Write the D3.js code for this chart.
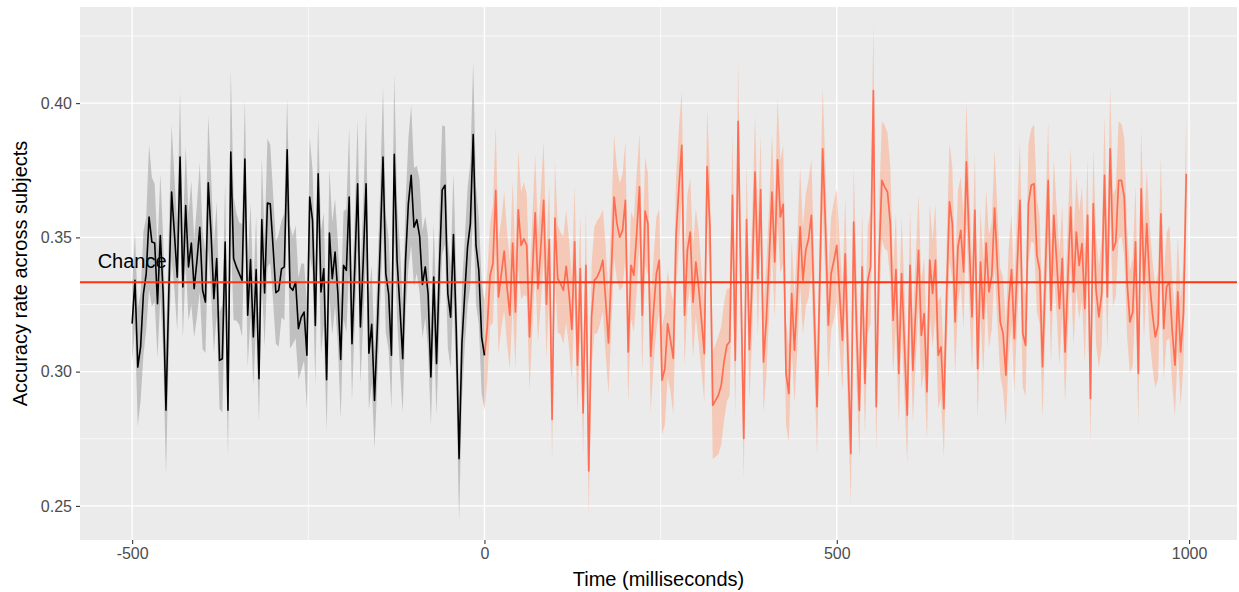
<!DOCTYPE html>
<html>
<head>
<meta charset="utf-8">
<script src="https://cdn.jsdelivr.net/npm/d3@7"></script>
<style>
  body { margin: 0; background: #fff; }
  text { font-family: "Liberation Sans", Arial, sans-serif; }
</style>
</head>
<body>
<svg id="chart"></svg>
<script>
// sampling grid (ms)
const step = 4;
const preStart = -500;
const postStart = 0;

// mean accuracy, pre-stimulus (black)
const preMean = [
  0.3179, 0.3340, 0.3017, 0.3092, 0.3290, 0.3365, 0.3576, 0.3483, 0.3479, 0.3253,
  0.3507, 0.3290, 0.2856, 0.3290, 0.3669, 0.3514, 0.3352, 0.3799, 0.3315, 0.3619,
  0.3390, 0.3479, 0.3309, 0.3414, 0.3538, 0.3303, 0.3259, 0.3703, 0.3514, 0.3272,
  0.3421, 0.3042, 0.3048, 0.3483, 0.2856, 0.3818, 0.3421, 0.3390, 0.3365, 0.3340,
  0.3792, 0.3210, 0.3417, 0.3129, 0.3380, 0.2974, 0.3566, 0.3293, 0.3628, 0.3625,
  0.3464, 0.3294, 0.3303, 0.3383, 0.3390, 0.3826, 0.3315, 0.3303, 0.3334, 0.3160,
  0.3203, 0.3222, 0.3061, 0.3650, 0.3563, 0.3172, 0.3737, 0.3297, 0.3383, 0.2970,
  0.3516, 0.3346, 0.3445, 0.3290, 0.3045, 0.3396, 0.3377, 0.3650, 0.3104, 0.3390,
  0.3700, 0.3166, 0.3414, 0.3700, 0.3069, 0.3176, 0.2893, 0.3166, 0.3464, 0.3799,
  0.3365, 0.3290, 0.3061, 0.3809, 0.3414, 0.3241, 0.3048, 0.3414, 0.3625, 0.3731,
  0.3538, 0.3566, 0.3504, 0.3325, 0.3390, 0.3290, 0.2980, 0.3352, 0.3030, 0.3383,
  0.3677, 0.3694, 0.3290, 0.3203, 0.3511, 0.3154, 0.2676, 0.3104, 0.3290, 0.3464,
  0.3551, 0.3883, 0.3470, 0.3377, 0.3129, 0.3061
];

// ribbon half-width, pre-stimulus
const preCi = [
  0.014, 0.018, 0.022, 0.020, 0.023, 0.021, 0.027, 0.024, 0.022, 0.020,
  0.023, 0.021, 0.024, 0.022, 0.025, 0.021, 0.020, 0.024, 0.019, 0.022,
  0.020, 0.023, 0.018, 0.021, 0.024, 0.022, 0.019, 0.025, 0.022, 0.020,
  0.021, 0.018, 0.020, 0.022, 0.017, 0.031, 0.023, 0.020, 0.019, 0.021,
  0.022, 0.019, 0.021, 0.018, 0.020, 0.016, 0.023, 0.020, 0.024, 0.022,
  0.020, 0.019, 0.021, 0.018, 0.020, 0.019, 0.023, 0.020, 0.021, 0.019,
  0.020, 0.018, 0.020, 0.022, 0.019, 0.022, 0.020, 0.023, 0.021, 0.019,
  0.024, 0.021, 0.020, 0.019, 0.022, 0.020, 0.023, 0.026, 0.021, 0.020,
  0.024, 0.021, 0.022, 0.027, 0.021, 0.022, 0.018, 0.020, 0.022, 0.026,
  0.022, 0.021, 0.020, 0.030, 0.022, 0.023, 0.020, 0.021, 0.024, 0.026,
  0.022, 0.020, 0.021, 0.020, 0.019, 0.021, 0.018, 0.020, 0.019, 0.021,
  0.024, 0.022, 0.020, 0.019, 0.023, 0.021, 0.023, 0.021, 0.020, 0.022,
  0.023, 0.027, 0.022, 0.020, 0.021, 0.020
];

// mean accuracy, post-stimulus (red)
const postMean = [
  0.3061, 0.3166, 0.3359, 0.3402, 0.3675, 0.3278, 0.3365, 0.3449, 0.3315, 0.3210,
  0.3479, 0.3222, 0.3603, 0.3470, 0.3495, 0.3470, 0.3129, 0.3365, 0.3591, 0.3309,
  0.3464, 0.3638, 0.3251, 0.3492, 0.2822, 0.3572, 0.3346, 0.3328, 0.3303, 0.3392,
  0.3291, 0.3157, 0.3483, 0.3024, 0.3384, 0.2846, 0.3396, 0.2630, 0.3204, 0.3340,
  0.3353, 0.3377, 0.3415, 0.3266, 0.3107, 0.3365, 0.3650, 0.3551, 0.3501, 0.3526,
  0.3638, 0.3073, 0.3396, 0.3359, 0.3514, 0.3688, 0.3210, 0.3598, 0.3551, 0.3057,
  0.3228, 0.3365, 0.3415, 0.2968, 0.3011, 0.3179, 0.3117, 0.3049, 0.3508, 0.3688,
  0.3843, 0.3210, 0.3452, 0.3520, 0.3259, 0.3408, 0.3315, 0.3191, 0.3067, 0.3764,
  0.3539, 0.2875, 0.2893, 0.2912, 0.2949, 0.3036, 0.3098, 0.3111, 0.3657, 0.3042,
  0.3932, 0.3315, 0.2751, 0.3566, 0.3082, 0.3353, 0.3743, 0.3346, 0.3678, 0.3036,
  0.3191, 0.3415, 0.3669, 0.3408, 0.3789, 0.3576, 0.3623, 0.2993, 0.2918, 0.3291,
  0.3080, 0.3291, 0.3539, 0.3340, 0.3452, 0.3495, 0.3582, 0.3216, 0.2869, 0.3353,
  0.3830, 0.3539, 0.3173, 0.3365, 0.3415, 0.3470, 0.3291, 0.3117, 0.3439, 0.3042,
  0.2695, 0.3557, 0.3166, 0.2856, 0.3390, 0.2956, 0.3340, 0.3390, 0.4047, 0.2869,
  0.3415, 0.3712, 0.3688, 0.3669, 0.3551, 0.3191, 0.3380, 0.2993, 0.3365, 0.3104,
  0.2838, 0.3396, 0.3005, 0.3228, 0.3452, 0.3135, 0.3216, 0.2925, 0.3415, 0.3291,
  0.3415, 0.3061, 0.3092, 0.2862, 0.3291, 0.3632, 0.3551, 0.3185, 0.3464, 0.3526,
  0.3371, 0.3781, 0.3477, 0.3204, 0.3601, 0.3011, 0.3408, 0.3197, 0.3479, 0.3297,
  0.3359, 0.3609, 0.3390, 0.3185, 0.3142, 0.2987, 0.3259, 0.3380, 0.3123, 0.3390,
  0.3638, 0.3142, 0.3098, 0.3626, 0.3694, 0.3700, 0.3433, 0.3377, 0.3018, 0.3365,
  0.3712, 0.3228, 0.3582, 0.3415, 0.3235, 0.3421, 0.3073, 0.3353, 0.3613, 0.3297,
  0.3520, 0.3396, 0.3477, 0.3235, 0.3582, 0.2900, 0.3626, 0.3303, 0.3204, 0.3291,
  0.3731, 0.3278, 0.3830, 0.3452, 0.3483, 0.3712, 0.3712, 0.3650, 0.3334, 0.3185,
  0.3222, 0.3483, 0.2993, 0.3681, 0.3328, 0.3551, 0.3334, 0.3216, 0.3129, 0.3173,
  0.3588, 0.3160, 0.3315, 0.3334, 0.3154, 0.3024, 0.3297, 0.3073, 0.3216, 0.3737
];

// ribbon half-width, post-stimulus
const postCi = [
  0.021, 0.020, 0.019, 0.022, 0.024, 0.021, 0.020, 0.022, 0.021, 0.020,
  0.023, 0.021, 0.022, 0.020, 0.021, 0.019, 0.020, 0.021, 0.022, 0.020,
  0.021, 0.022, 0.020, 0.021, 0.015, 0.021, 0.020, 0.019, 0.020, 0.021,
  0.020, 0.019, 0.021, 0.018, 0.020, 0.016, 0.021, 0.017, 0.019, 0.020,
  0.021, 0.020, 0.019, 0.020, 0.019, 0.021, 0.023, 0.021, 0.020, 0.021,
  0.022, 0.019, 0.020, 0.021, 0.022, 0.020, 0.021, 0.020, 0.019, 0.021,
  0.020, 0.021, 0.019, 0.020, 0.021, 0.020, 0.019, 0.021, 0.022, 0.022,
  0.020, 0.019, 0.021, 0.020, 0.021, 0.020, 0.021, 0.019, 0.018, 0.021,
  0.020, 0.020, 0.021, 0.022, 0.022, 0.022, 0.021, 0.020, 0.023, 0.021,
  0.021, 0.020, 0.015, 0.021, 0.019, 0.022, 0.021, 0.022, 0.020, 0.019,
  0.021, 0.020, 0.022, 0.021, 0.023, 0.021, 0.022, 0.019, 0.018, 0.020,
  0.020, 0.021, 0.022, 0.020, 0.021, 0.022, 0.021, 0.020, 0.018, 0.021,
  0.023, 0.021, 0.020, 0.021, 0.022, 0.021, 0.020, 0.019, 0.021, 0.020,
  0.019, 0.021, 0.020, 0.018, 0.021, 0.019, 0.020, 0.021, 0.025, 0.017,
  0.021, 0.022, 0.023, 0.022, 0.021, 0.020, 0.021, 0.019, 0.021, 0.020,
  0.018, 0.021, 0.019, 0.020, 0.021, 0.020, 0.021, 0.018, 0.021, 0.020,
  0.021, 0.020, 0.019, 0.018, 0.020, 0.022, 0.021, 0.020, 0.021, 0.020,
  0.021, 0.022, 0.021, 0.020, 0.021, 0.019, 0.020, 0.021, 0.020, 0.021,
  0.020, 0.022, 0.021, 0.020, 0.021, 0.019, 0.020, 0.021, 0.020, 0.021,
  0.022, 0.020, 0.019, 0.022, 0.021, 0.022, 0.021, 0.020, 0.019, 0.021,
  0.022, 0.020, 0.021, 0.020, 0.021, 0.020, 0.019, 0.021, 0.022, 0.020,
  0.021, 0.020, 0.021, 0.020, 0.021, 0.017, 0.021, 0.020, 0.019, 0.020,
  0.022, 0.020, 0.023, 0.021, 0.020, 0.022, 0.021, 0.022, 0.020, 0.019,
  0.020, 0.021, 0.019, 0.022, 0.021, 0.020, 0.021, 0.020, 0.019, 0.020,
  0.021, 0.019, 0.020, 0.021, 0.020, 0.019, 0.021, 0.020, 0.019, 0.022
];

const chance = 1 / 3;
const xTicks = [-500, 0, 500, 1000];
const xMinor = [-250, 250, 750];
const yTicks = [0.25, 0.30, 0.35, 0.40];
const yMinor = [0.275, 0.325, 0.375, 0.425];

const W = 1239, H = 592;
const panel = { left: 80, right: 1237, top: 7, bottom: 540 };

const svg = d3.select("#chart").attr("width", W).attr("height", H);

const x = d3.scaleLinear().domain([-574, 1068]).range([panel.left, panel.right]);
const y = d3.scaleLinear().domain([0.2373, 0.4358]).range([panel.bottom, panel.top]);

const toRows = (start, mean, ci) =>
  mean.map((m, i) => ({ t: start + i * step, m: m, lo: m - ci[i], hi: m + ci[i] }));

const pre = toRows(preStart, preMean, preCi);
const post = toRows(postStart, postMean, postCi);

// panel background + grid
svg
  .append("rect")
  .attr("x", panel.left)
  .attr("y", panel.top)
  .attr("width", panel.right - panel.left)
  .attr("height", panel.bottom - panel.top)
  .attr("fill", "#EBEBEB");

const grid = svg.append("g");
grid
  .selectAll(".ymin")
  .data(yMinor)
  .enter()
  .append("line")
  .attr("x1", panel.left)
  .attr("x2", panel.right)
  .attr("y1", (d) => y(d))
  .attr("y2", (d) => y(d))
  .attr("stroke", "#fff")
  .attr("stroke-width", 0.7);
grid
  .selectAll(".xmin")
  .data(xMinor)
  .enter()
  .append("line")
  .attr("x1", (d) => x(d))
  .attr("x2", (d) => x(d))
  .attr("y1", panel.top)
  .attr("y2", panel.bottom)
  .attr("stroke", "#fff")
  .attr("stroke-width", 0.7);
grid
  .selectAll(".ymaj")
  .data(yTicks)
  .enter()
  .append("line")
  .attr("x1", panel.left)
  .attr("x2", panel.right)
  .attr("y1", (d) => y(d))
  .attr("y2", (d) => y(d))
  .attr("stroke", "#fff")
  .attr("stroke-width", 1.4);
grid
  .selectAll(".xmaj")
  .data(xTicks)
  .enter()
  .append("line")
  .attr("x1", (d) => x(d))
  .attr("x2", (d) => x(d))
  .attr("y1", panel.top)
  .attr("y2", panel.bottom)
  .attr("stroke", "#fff")
  .attr("stroke-width", 1.4);

// ribbons
const band = d3
  .area()
  .x((d) => x(d.t))
  .y0((d) => y(d.lo))
  .y1((d) => y(d.hi));

svg.append("path").datum(pre).attr("d", band).attr("fill", "#7f7f7f").attr("fill-opacity", 0.4);
svg.append("path").datum(post).attr("d", band).attr("fill", "#FFA07A").attr("fill-opacity", 0.45);

// chance label
svg
  .append("text")
  .attr("x", x(-500))
  .attr("y", y(0.3412))
  .attr("dy", "0.35em")
  .attr("text-anchor", "middle")
  .style("font-size", "20px")
  .attr("fill", "#000")
  .text("Chance");

// mean lines
const line = d3
  .line()
  .x((d) => x(d.t))
  .y((d) => y(d.m));

svg
  .append("path")
  .datum(post)
  .attr("d", line)
  .attr("fill", "none")
  .attr("stroke", "#FF6347")
  .attr("stroke-opacity", 0.9)
  .attr("stroke-width", 1.7)
  .attr("stroke-linejoin", "round");

svg
  .append("path")
  .datum(pre)
  .attr("d", line)
  .attr("fill", "none")
  .attr("stroke", "#000")
  .attr("stroke-width", 1.6)
  .attr("stroke-linejoin", "round");

// chance line
svg
  .append("line")
  .attr("x1", panel.left)
  .attr("x2", panel.right)
  .attr("y1", y(chance))
  .attr("y2", y(chance))
  .attr("stroke", "#FF3311")
  .attr("stroke-width", 2);

// axes
const xAxis = svg
  .append("g")
  .attr("transform", `translate(0,${panel.bottom})`)
  .call(d3.axisBottom(x).tickValues(xTicks).tickSize(4).tickPadding(4).tickFormat(d3.format("d")));
const yAxis = svg
  .append("g")
  .attr("transform", `translate(${panel.left},0)`)
  .call(d3.axisLeft(y).tickValues(yTicks).tickSize(4).tickPadding(4).tickFormat(d3.format(".2f")));

[xAxis, yAxis].forEach((g) => {
  g.select(".domain").remove();
  g.selectAll(".tick line").attr("stroke", "#333").attr("stroke-width", 1.1);
  g.selectAll(".tick text")
    .attr("fill", "#4D4D4D")
    .style("font-size", "16px")
    .style("font-family", '"Liberation Sans", Arial, sans-serif');
});
xAxis.selectAll(".tick text").text((d) => (d < 0 ? "-" + Math.abs(d) : d));

svg
  .append("text")
  .attr("x", (panel.left + panel.right) / 2)
  .attr("y", 586)
  .attr("text-anchor", "middle")
  .style("font-size", "20px")
  .text("Time (milliseconds)");

svg
  .append("text")
  .attr("transform", `translate(27,${(panel.top + panel.bottom) / 2}) rotate(-90)`)
  .attr("text-anchor", "middle")
  .style("font-size", "20px")
  .text("Accuracy rate across subjects");
</script>
</body>
</html>
